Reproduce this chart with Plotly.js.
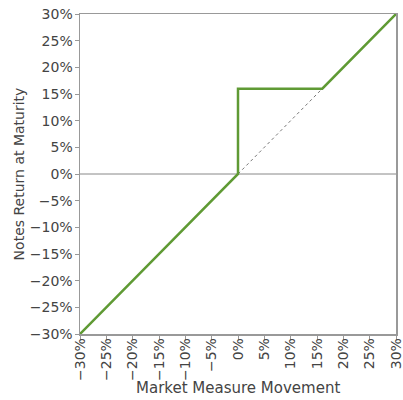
<!DOCTYPE html>
<html><head><meta charset="utf-8">
<script src="https://cdn.plot.ly/plotly-3.0.1.min.js"></script>
<style>html,body{margin:0;padding:0;background:#fff}</style>
</head><body><div id="chart" style="width:403px;height:400px"></div>
<script>
var payoffX = [-30, 0, 0, 16, 30];
var payoffY = [-30, 0, 16, 16, 30];
var refX = [0, 16];
var refY = [0, 16];
var zeroX = [-30, 30];
var zeroY = [0, 0];
var tickVals = [-30,-25,-20,-15,-10,-5,0,5,10,15,20,25,30];
var tickText = tickVals.map(function(v){return (v<0?'\u2212'+(-v):v)+'%';});
var xTitle = 'Market Measure Movement';
var yTitle = 'Notes Return at Maturity';
var font = 'DejaVu Sans, sans-serif';
Plotly.newPlot('chart', [
  {x: zeroX, y: zeroY, mode:'lines', line:{color:'#888', width:1}, hoverinfo:'skip'},
  {x: refX, y: refY, mode:'lines', line:{color:'#777', width:1, dash:'dot'}, hoverinfo:'skip'},
  {x: payoffX, y: payoffY, mode:'lines', line:{color:'#5f9a34', width:2.5}, cliponaxis:false}
], {
  width:403, height:400, showlegend:false,
  margin:{l:80, r:7, t:14, b:66},
  paper_bgcolor:'#fff', plot_bgcolor:'#fff',
  font:{family:font, color:'#444', size:14},
  xaxis:{range:[-30,30], tickvals:tickVals, ticktext:tickText, tickangle:-90, ticklabeloverflow:'allow',
    ticklabelstandoff:-7,
    showgrid:false, zeroline:false, showline:true, mirror:true, linecolor:'#999', linewidth:1.5,
    ticks:'outside', ticklen:4, tickcolor:'#999', tickfont:{size:14, color:'#444'}},
  yaxis:{range:[-30,30], tickvals:tickVals, ticktext:tickText, ticklabeloverflow:'allow',
    ticklabelstandoff:-1,
    showgrid:false, zeroline:false, showline:true, mirror:true, linecolor:'#999', linewidth:1.5,
    ticks:'outside', ticklen:4, tickcolor:'#999', tickfont:{size:14, color:'#444'},
    title:{text:yTitle, font:{size:14, family:font, color:'#444'}, standoff:2}},
  annotations:[{text:xTitle, xref:'paper', yref:'paper', x:0.5, y:-0.169, xanchor:'center', yanchor:'middle',
    showarrow:false, font:{size:15, family:font, color:'#444'}}]
}, {staticPlot:true});
</script></body></html>
